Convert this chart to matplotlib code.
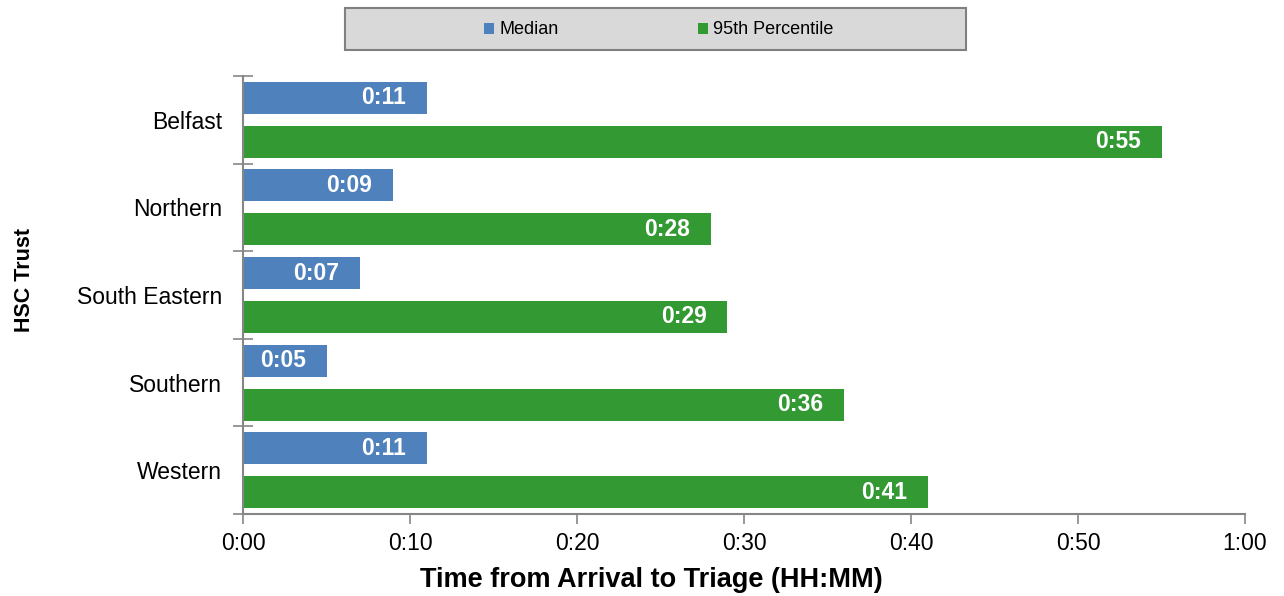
import matplotlib.pyplot as plt
from matplotlib.patches import Rectangle
from matplotlib.ticker import FuncFormatter, FixedLocator
import numpy as np

plt.rcParams['font.family'] = ['Liberation Sans', 'DejaVu Sans']

trusts = ['Belfast', 'Northern', 'South Eastern', 'Southern', 'Western']
median_min = [11, 9, 7, 5, 11]
p95_min = [55, 28, 29, 36, 41]
xticks_min = [0, 10, 20, 30, 40, 50, 60]

blue = '#4f81bd'
green = '#339933'
grey = '#868686'

def hhmm(m, pos=None):
    m = int(round(m))
    return '%d:%02d' % (m // 60, m % 60)

fig = plt.figure(figsize=(12.84, 5.96), dpi=100)
ax = fig.add_axes([243/1284, 1-514/596, 1002/1284, 438/596])

y = np.arange(len(trusts))
off = 0.251
h = 0.365
b1 = ax.barh(y - off, median_min, height=h, color=blue, label='Median')
b2 = ax.barh(y + off, p95_min, height=h, color=green, label='95th Percentile')

for bars, vals in ((b1, median_min), (b2, p95_min)):
    for bar, v in zip(bars, vals):
        ax.annotate(hhmm(v), (v, bar.get_y() + bar.get_height() / 2),
                    xytext=(-15, 0), textcoords='offset points',
                    ha='right', va='center', color='white',
                    fontsize=16.5, fontweight='bold')

ax.set_xlim(0, 60)
ax.set_ylim(len(trusts) - 0.5, -0.5)
ax.set_xticks(xticks_min)
ax.xaxis.set_major_formatter(FuncFormatter(hhmm))
ax.set_yticks(y)
ax.set_yticklabels(trusts)
ax.yaxis.set_minor_locator(FixedLocator(np.arange(len(trusts) + 1) - 0.5))

ax.tick_params(axis='y', which='major', length=0, pad=15, labelsize=16.5)
ax.tick_params(axis='y', which='minor', direction='inout', length=14,
               width=1.2, color=grey)
ax.tick_params(axis='x', direction='out', length=7, width=1.2, color=grey,
               labelsize=16.5, pad=6)

for side in ('top', 'right'):
    ax.spines[side].set_visible(False)
for side in ('left', 'bottom'):
    ax.spines[side].set_color(grey)
    ax.spines[side].set_linewidth(1.5)

ax.set_xlabel('Time from Arrival to Triage (HH:MM)', fontsize=19.5,
              fontweight='bold', va='center')
ax.xaxis.set_label_coords(0.408, -0.151)
ax.set_ylabel('HSC Trust', fontsize=15.5, fontweight='bold', va='center')
ax.yaxis.set_label_coords(-0.2176, 0.534)

# legend box across the top
fig.patches.append(Rectangle((345/1284, 1-50/596), 621/1284, 42/596,
                             transform=fig.transFigure, facecolor='#d9d9d9',
                             edgecolor='#808080', linewidth=1.5))
fig.legend(handles=[b1, b2], loc='center',
           bbox_to_anchor=(659/1284, 1-30/596), ncol=2, frameon=False,
           fontsize=13, handlelength=0.55, handleheight=0.55,
           handletextpad=0.28, columnspacing=7.75, borderpad=0)

fig.savefig('out.png', dpi=100)
